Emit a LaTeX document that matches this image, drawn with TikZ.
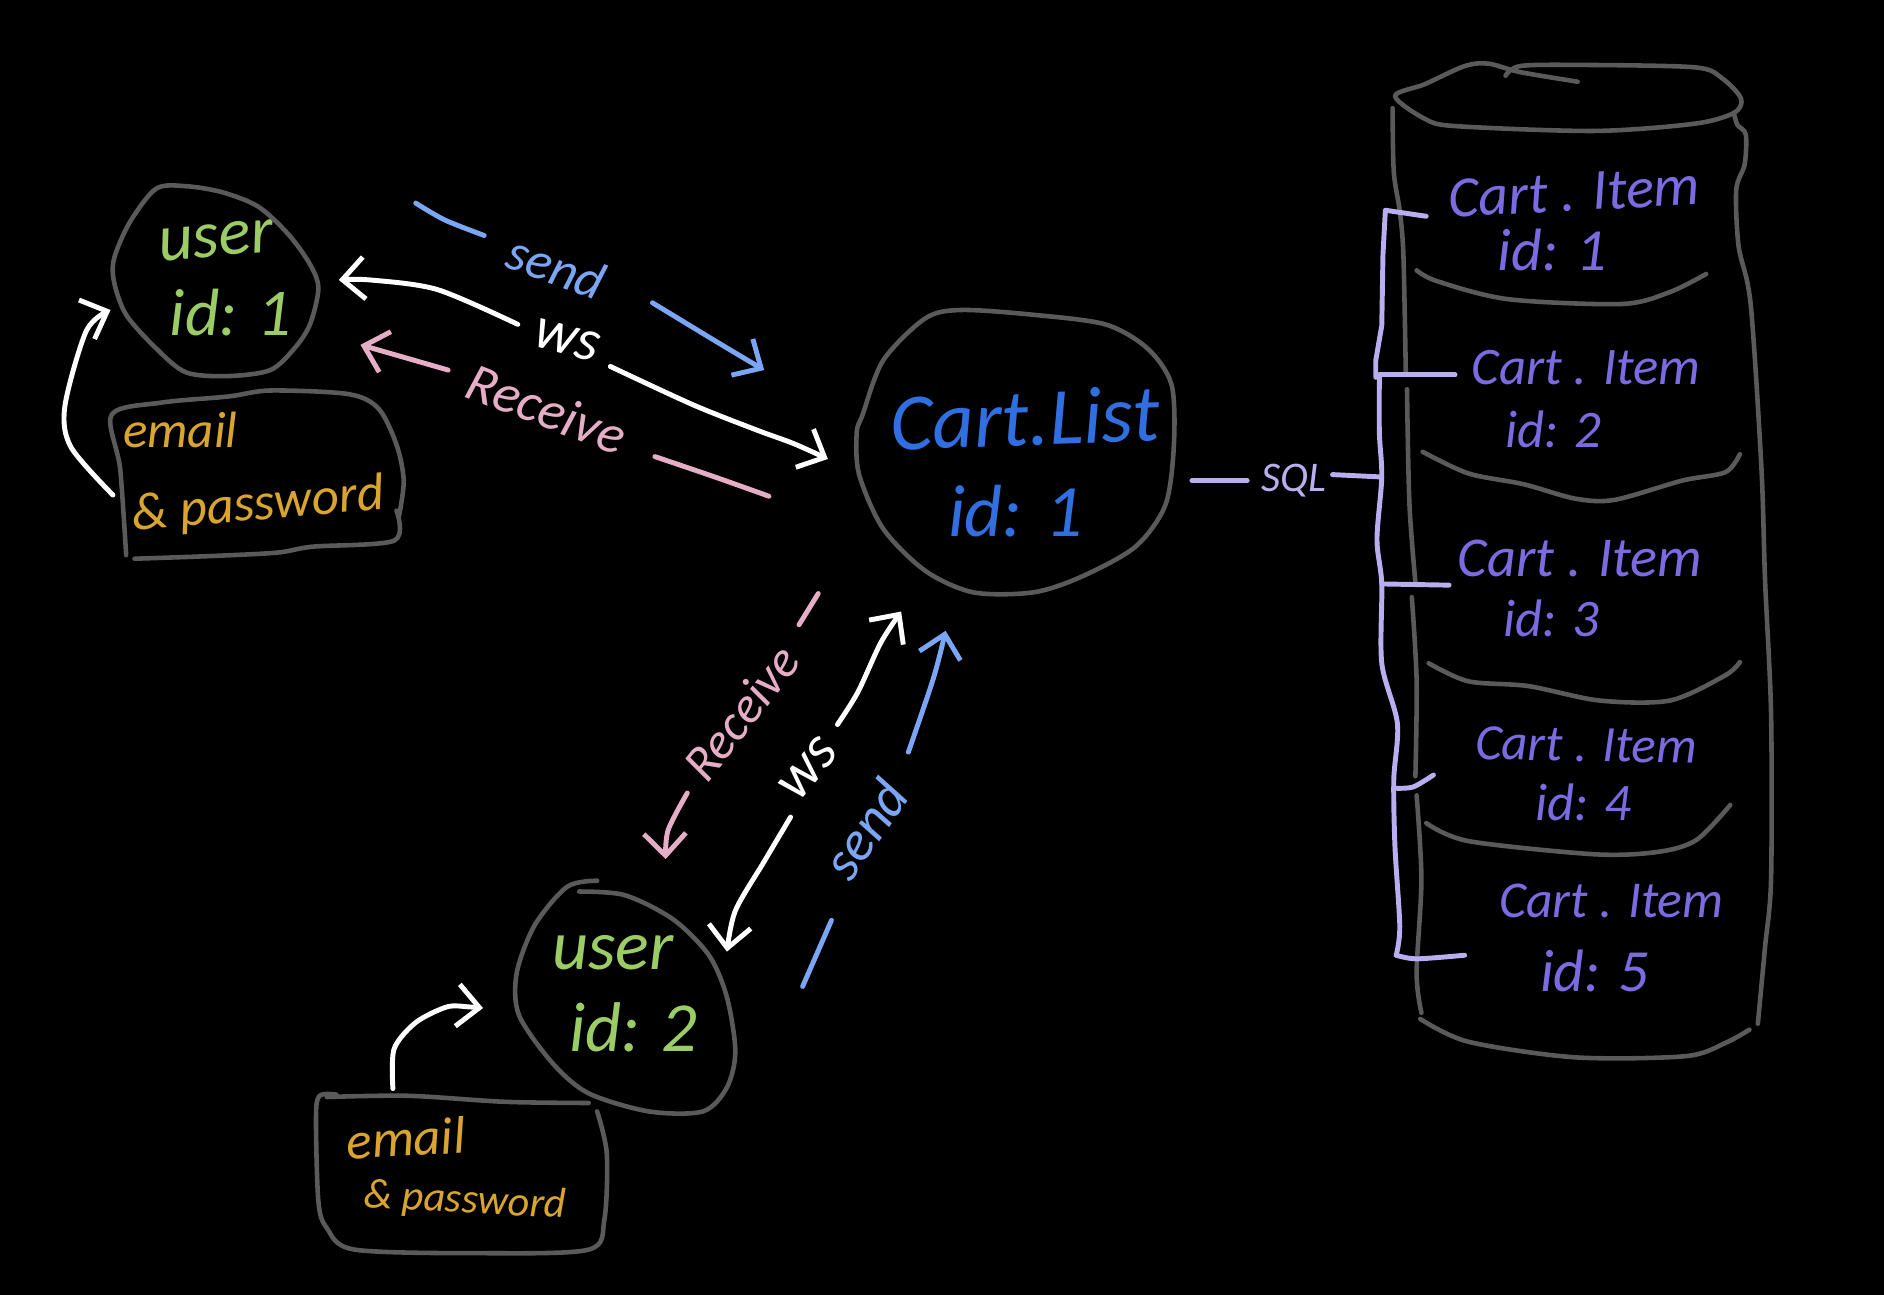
\documentclass[tikz,border=0pt]{standalone}
\usepackage{fontspec}
\setmainfont{Carlito}
\usepackage{tikz}
\usetikzlibrary{arrows.meta,calc,positioning}

\definecolor{sketchgray}{HTML}{5A5A5A}
\definecolor{sendblue}{HTML}{7BA6F5}
\definecolor{receivepink}{HTML}{E6AEC6}
\definecolor{usergreen}{HTML}{9CCC65}
\definecolor{credgold}{HTML}{D9A52E}
\definecolor{listblue}{HTML}{2F6FE0}
\definecolor{itempurple}{HTML}{7B6BE0}
\definecolor{sqllavender}{HTML}{B8AEF0}

\begin{document}
\begin{tikzpicture}[
    x=0.12mm,y=-0.12mm,
    outline/.style={draw=sketchgray,line width=1.3pt,line cap=round,line join=round},
    connector/.style={->,>={Straight Barb[length=2.2mm,width=4.2mm]},line width=1.4pt,line cap=round},
    line/.style={line width=1.4pt,line cap=round,line join=round},
    hand/.style={inner sep=0pt,align=center,font=\itshape\fontsize{#1}{#1}\selectfont},
    hand/.default=17]
    \useasboundingbox (0,0) rectangle (1568,1077.8);
    \fill[black] (0,0) rectangle (1568,1077.8);

    % Text first, every label is a node of its own
    \node (user_one) [hand=19,usergreen,rotate=5] at (180,200) {user};
    \node (user_one_id) [hand=19,usergreen] at (192,260) {id: 1};
    \node (cred_one_email) [hand=14.5,credgold] at (150,358) {email};
    \node (cred_one_pass) [hand=15,credgold,rotate=5] at (215,421) {\& password};
    \node (send_one) [hand=15,sendblue,rotate=-20] at (463,222) {send};
    \node (ws_one) [hand=17,white,rotate=-15] at (472,283) {ws};
    \node (receive_one) [hand=15.5,receivepink,rotate=-21] at (455,340) {Receive};
    \node (cart_list) [hand=23,listblue,rotate=2] at (853,348) {Cart.List};
    \node (cart_list_id) [hand=21,listblue] at (845,425) {id: 1};
    \node (sql) [hand=12,sqllavender] at (1077,400) {SQL};
    \node (receive_two) [hand=14.5,receivepink,rotate=52] at (617,593) {Receive};
    \node (ws_two) [hand=17,white,rotate=50] at (673,640) {ws};
    \node (send_two) [hand=16,sendblue,rotate=55] at (720,690) {send};
    \node (user_two) [hand=20,usergreen] at (510,793) {user};
    \node (user_two_id) [hand=20,usergreen] at (527,855) {id: 2};
    \node (cred_two_email) [hand=15,credgold,rotate=3] at (338,947) {email};
    \node (cred_two_pass) [hand=12,credgold,rotate=-3] at (387,1000) {\& password};
    \node (item_one) [hand=16.5,itempurple,rotate=3] at (1310,160) {Cart . Item};
    \node (item_one_id) [hand=17,itempurple] at (1292,208) {id: 1};
    \node (item_two) [hand=15,itempurple] at (1320,306) {Cart . Item};
    \node (item_two_id) [hand=15,itempurple] at (1293,357) {id: 2};
    \node (item_three) [hand=16,itempurple] at (1315,465) {Cart . Item};
    \node (item_three_id) [hand=15,itempurple] at (1291,515) {id: 3};
    \node (item_four) [hand=14.5,itempurple,rotate=-1] at (1320,620) {Cart . Item};
    \node (item_four_id) [hand=15,itempurple] at (1318,668) {id: 4};
    \node (item_five) [hand=14.7,itempurple] at (1341,750) {Cart . Item};
    \node (item_five_id) [hand=17,itempurple] at (1327,808) {id: 5};

    % Hand drawn outlines
    \draw[outline] plot[smooth cycle] coordinates {(130,157) (155,155) (185,160) (215,172) (240,195) (258,220) (265,240) (258,270) (245,290) (225,308) (190,313) (155,310) (130,290) (105,262) (95,235) (95,215) (108,185)};
    \draw[outline] plot[smooth] coordinates {(105,462) (100,390) (93,345) (135,335) (190,330) (225,325) (290,328) (315,340) (330,370) (336,400) (332,430)};
    \draw[outline] plot[smooth] coordinates {(112,465) (170,463) (230,460) (260,455) (328,450) (330,425)};
    \draw[outline] plot[smooth cycle] coordinates {(718,345) (735,300) (770,265) (800,258) (860,262) (920,270) (955,290) (975,320) (977,370) (970,420) (945,455) (900,480) (860,493) (810,493) (770,475) (735,440) (715,395) (713,360)};
    \draw[outline] plot[smooth] coordinates {(497,733) (472,738) (445,770) (430,810) (432,845) (460,885) (490,910) (540,925) (585,925) (605,905) (612,875) (605,830) (590,795) (560,765) (520,745) (482,742)};
    \draw[outline] plot[smooth] coordinates {(280,911) (266,912) (263,930) (265,1000) (272,1022) (295,1040) (400,1043) (490,1040) (503,1015) (505,960) (497,925)};
    \draw[outline] plot[smooth] coordinates {(272,913) (340,912) (420,917) (490,918)};

    % Cylinder with its shelves
    \draw[outline] plot[smooth] coordinates {(1313,68) (1265,60) (1239,53) (1219,55) (1186,70) (1161,80) (1186,99) (1212,105) (1327,109) (1410,103) (1443,94) (1449,82) (1433,65) (1410,56) (1311,54) (1265,55) (1253,63)};
    \draw[outline] plot[smooth] coordinates {(1159,90) (1160,143) (1165,176) (1168,212) (1170,310)};
    \draw[outline] plot[smooth] coordinates {(1171,324) (1173,419) (1178,485)};
    \draw[outline] plot[smooth] coordinates {(1175,497) (1179,566) (1178,646)};
    \draw[outline] plot[smooth] coordinates {(1179,662) (1183,732) (1179,810) (1183,843)};
    \draw[outline] plot[smooth] coordinates {(1182,848) (1222,867) (1311,880) (1403,879) (1436,868) (1456,857)};
    \draw[outline] plot[smooth] coordinates {(1443,94) (1446,104) (1453,112) (1452,137) (1445,158) (1447,205) (1457,253) (1466,390) (1469,483) (1474,594) (1474,732) (1469,788) (1463,852)};
    \draw[outline] plot[smooth] coordinates {(1179,225) (1196,234) (1255,249) (1350,253) (1390,243) (1420,228)};
    \draw[outline] plot[smooth] coordinates {(1184,376) (1222,394) (1268,403) (1311,415) (1344,416) (1400,400) (1436,393) (1448,378)};
    \draw[outline] plot[smooth] coordinates {(1189,552) (1222,567) (1272,571) (1331,583) (1390,583) (1436,562) (1448,551)};
    \draw[outline] plot[smooth] coordinates {(1187,685) (1222,700) (1327,711) (1380,709) (1412,699) (1440,670)};

    % Free ends of the connectors
    \coordinate (user_one_ws) at (282,233);
    \coordinate (user_one_recv) at (300,287);
    \coordinate (user_one_login) at (92,258);
    \coordinate (list_ws_in) at (689,382);
    \coordinate (list_send_in) at (636,308);
    \coordinate (list_ws_two) at (750,509);
    \coordinate (list_send_two) at (787,525);
    \coordinate (user_two_ws) at (605,792);
    \coordinate (user_two_login) at (402,839);
    \coordinate (recv_two_tip) at (554,715);
    \coordinate (cred_one_out) at (94,412);
    \coordinate (cred_two_out) at (327,906);
    \coordinate (bus_in) at (1150,397);

    % First user
    \draw[connector,white] plot[smooth] coordinates {(431,270) (364,241) (308,233) (user_one_ws)};
    \draw[connector,white] plot[smooth] coordinates {(508,305) (577,337) (630,358) (660,369) (list_ws_in)};
    \draw[line,sendblue] plot[smooth] coordinates {(346,169) (370,183) (403,196)};
    \draw[connector,sendblue] plot[smooth] coordinates {(543,252) (599,286) (list_send_in)};
    \draw[connector,receivepink] (373,308) -- (user_one_recv);
    \draw[line,receivepink] plot[smooth] coordinates {(545,380) (595,397) (640,413)};
    \draw[connector,white] plot[smooth] coordinates {(cred_one_out) (59,372) (54,338) (72,275) (user_one_login)};

    % Second user
    \draw[line,receivepink] (681,494) -- (665,520);
    \draw[connector,receivepink] plot[smooth] coordinates {(572,660) (556,691) (recv_two_tip)};
    \draw[connector,white] plot[smooth] coordinates {(697,603) (714,576) (733,535) (list_ws_two)};
    \draw[connector,white] plot[smooth] coordinates {(658,680) (636,717) (612,758) (user_two_ws)};
    \draw[connector,sendblue] plot[smooth] coordinates {(756,626) (777,564) (list_send_two)};
    \draw[line,sendblue] (692,766) -- (668,821);
    \draw[connector,white] plot[smooth] coordinates {(cred_two_out) (328,873) (346,851) (372,838) (390,838) (user_two_login)};

    % SQL connector and the bus to the items
    \draw[line,sqllavender] (992,400) -- (1038,400);
    \draw[line,sqllavender] (1109,395) -- (bus_in);
    \draw[line,sqllavender] (1187,180) -- (1153,175) -- (1151,212) -- (1150,271) -- (1145,300) -- (1145,314);
    \draw[line,sqllavender] (1148,312) -- (1211,312);
    \draw[line,sqllavender] plot[smooth] coordinates {(1148,312) (1148,360) (bus_in) (1146,449) (1150,486) (1150,552) (1163,602) (1160,649) (1161,705) (1165,771) (1162,795)};
    \draw[line,sqllavender] (1150,486) -- (1206,487);
    \draw[line,sqllavender] plot[smooth] coordinates {(1160,656) (1176,655) (1193,645)};
    \draw[line,sqllavender] plot[smooth] coordinates {(1162,795) (1179,798) (1219,795)};
\end{tikzpicture}
\end{document}
